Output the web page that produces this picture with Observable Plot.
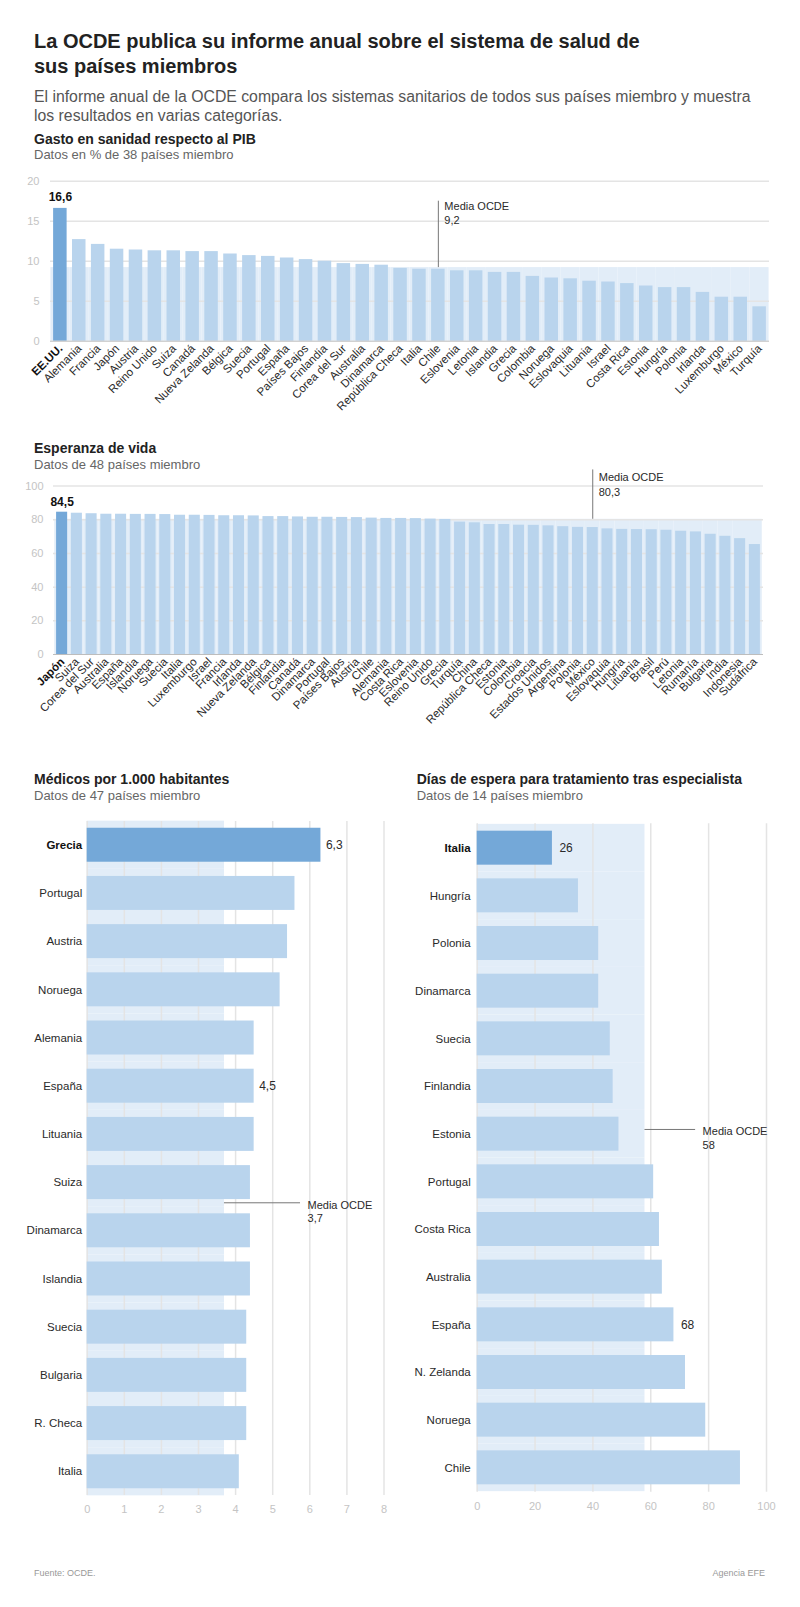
<!DOCTYPE html>
<html>
<head>
<meta charset="utf-8">
<script src="https://cdn.jsdelivr.net/npm/d3@7"></script>
<script src="https://cdn.jsdelivr.net/npm/@observablehq/plot@0.6"></script>
<style>
  body { margin: 0; background: #fff; font-family: "Liberation Sans", Arial, Helvetica, sans-serif; }
  #page { position: relative; width: 800px; height: 1607px; overflow: hidden; background: #fff; }
  .abs { position: absolute; white-space: nowrap; }
  .title { left: 34px; top: 29px; font-size: 20px; font-weight: bold; line-height: 25px; color: #222; }
  .sub { left: 34px; top: 86.5px; font-size: 15.8px; line-height: 19px; color: #555; }
  .st { font-size: 14px; font-weight: bold; line-height: 14px; color: #222; z-index: 2; }
  .ss { font-size: 13px; line-height: 13px; color: #666; z-index: 2; }
  .foot { font-size: 9px; line-height: 9px; color: #999; }
  svg { overflow: visible; }
</style>
</head>
<body>
<div id="page">
  <div class="abs title">La OCDE publica su informe anual sobre el sistema de salud de<br>sus países miembros</div>
  <div class="abs sub">El informe anual de la OCDE compara los sistemas sanitarios de todos sus países miembro y muestra<br>los resultados en varias categorías.</div>

  <div class="abs st" style="left:34px;top:131.8px">Gasto en sanidad respecto al PIB</div>
  <div class="abs ss" style="left:34px;top:148.3px">Datos en % de 38 países miembro</div>
  <div class="abs" id="c1" style="left:0;top:170px"></div>

  <div class="abs st" style="left:34px;top:441.4px">Esperanza de vida</div>
  <div class="abs ss" style="left:34px;top:458px">Datos de 48 países miembro</div>
  <div class="abs" id="c2" style="left:0;top:460px"></div>

  <div class="abs st" style="left:34px;top:772.1px">Médicos por 1.000 habitantes</div>
  <div class="abs ss" style="left:34px;top:789px">Datos de 47 países miembro</div>
  <div class="abs" id="c3" style="left:0;top:810px"></div>

  <div class="abs st" style="left:416.7px;top:772.1px">Días de espera para tratamiento tras especialista</div>
  <div class="abs ss" style="left:416.7px;top:789px">Datos de 14 países miembro</div>
  <div class="abs" id="c4" style="left:400px;top:810px"></div>

  <div class="abs foot" style="left:34px;top:1568.7px">Fuente: OCDE.</div>
  <div class="abs foot" style="right:35px;top:1568.7px">Agencia EFE</div>
</div>
<script>
// ---------- DATA ----------
const gastoPaises = ["EE.UU.", "Alemania", "Francia", "Japón", "Austria", "Reino Unido", "Suiza", "Canadá", "Nueva Zelanda", "Bélgica", "Suecia", "Portugal", "España", "Países Bajos", "Finlandia", "Corea del Sur", "Australia", "Dinamarca", "República Checa", "Italia", "Chile", "Eslovenia", "Letonia", "Islandia", "Grecia", "Colombia", "Noruega", "Eslovaquia", "Lituania", "Israel", "Costa Rica", "Estonia", "Hungría", "Polonia", "Irlanda", "Luxemburgo", "México", "Turquía"];
const gastoValores = [16.6, 12.7, 12.1, 11.5, 11.4, 11.3, 11.3, 11.2, 11.2, 10.9, 10.7, 10.6, 10.4, 10.2, 10.0, 9.7, 9.6, 9.5, 9.1, 9.0, 9.0, 8.8, 8.8, 8.6, 8.6, 8.1, 7.9, 7.8, 7.5, 7.4, 7.2, 6.9, 6.7, 6.7, 6.1, 5.5, 5.5, 4.3];
const gastoMedia = 9.2;
const gastoDestacado = "EE.UU.";
const gastoMediaEn = "Chile";
const gastoTicks = [0, 5, 10, 15, 20];

const vidaPaises = ["Japón", "Suiza", "Corea del Sur", "Australia", "España", "Islandia", "Noruega", "Suecia", "Italia", "Luxemburgo", "Israel", "Francia", "Irlanda", "Nueva Zelanda", "Bélgica", "Finlandia", "Canadá", "Dinamarca", "Portugal", "Países Bajos", "Austria", "Chile", "Alemania", "Costa Rica", "Eslovenia", "Reino Unido", "Grecia", "Turquía", "China", "República Checa", "Estonia", "Colombia", "Croacia", "Estados Unidos", "Argentina", "Polonia", "México", "Eslovaquia", "Hungría", "Lituania", "Brasil", "Perú", "Letonia", "Rumanía", "Bulgaria", "India", "Indonesia", "Sudáfrica"];
const vidaValores = [84.5, 83.9, 83.6, 83.3, 83.3, 83.2, 83.2, 83.1, 82.7, 82.7, 82.6, 82.4, 82.4, 82.3, 81.9, 81.9, 81.7, 81.5, 81.5, 81.4, 81.3, 81.0, 80.8, 80.8, 80.7, 80.4, 80.2, 78.6, 78.2, 77.2, 77.2, 76.8, 76.7, 76.4, 75.9, 75.5, 75.4, 74.6, 74.3, 74.2, 74.1, 73.8, 73.2, 72.8, 71.4, 70.2, 68.8, 65.3];
const vidaMedia = 80.3;
const vidaDestacado = "Japón";
const vidaMediaEn = "México";
const vidaTicks = [0, 20, 40, 60, 80, 100];

const medicosPaises = ["Grecia", "Portugal", "Austria", "Noruega", "Alemania", "España", "Lituania", "Suiza", "Dinamarca", "Islandia", "Suecia", "Bulgaria", "R. Checa", "Italia"];
const medicosValores = [6.3, 5.6, 5.4, 5.2, 4.5, 4.5, 4.5, 4.4, 4.4, 4.4, 4.3, 4.3, 4.3, 4.1];
const medicosMedia = 3.7;
const medicosDestacado = "Grecia";
const medicosEtiquetas = ["Grecia", "España"];
const medicosMediaEn = "Dinamarca";
const medicosTicks = [0, 1, 2, 3, 4, 5, 6, 7, 8];

const esperaPaises = ["Italia", "Hungría", "Polonia", "Dinamarca", "Suecia", "Finlandia", "Estonia", "Portugal", "Costa Rica", "Australia", "España", "N. Zelanda", "Noruega", "Chile"];
const esperaValores = [26, 35, 42, 42, 46, 47, 49, 61, 63, 64, 68, 72, 79, 91];
const esperaMedia = 58;
const esperaDestacado = "Italia";
const esperaEtiquetas = ["Italia", "España"];
const esperaMediaEn = "Estonia";
const esperaTicks = [0, 20, 40, 60, 80, 100];

// ---------- STYLE ----------
const C_HI = "#74a8d8", C_BAR = "#b9d4ed", C_SHADE = "#e2edf8", C_GRID = "#e4e4e4", C_TICK = "#c4c4c4", C_TEXT = "#2a2a2a", C_RULE = "#777";
const FONT = "'Liberation Sans', Arial, Helvetica, sans-serif";
const fmt = v => String(v).replace(".", ",");

function vertical(o) {
  const data = o.paises.map((p, i) => ({pais: p, valor: o.valores[i]}));
  return Plot.plot({
    width: 800, height: o.height,
    marginTop: o.mt, marginBottom: o.mb, marginLeft: o.ml, marginRight: o.mr,
    x: {type: "band", domain: o.paises, paddingInner: o.pi, paddingOuter: o.po, round: false, axis: null},
    y: {domain: [0, o.ticks[o.ticks.length - 1]]},
    style: {fontFamily: FONT, background: "none", overflow: "visible"},
    marks: [
      Plot.barY(o.paises, {x: d => d, y1: 0, y2: () => o.media, fill: C_SHADE, insetLeft: -o.inset, insetRight: -o.inset}),
      Plot.ruleY(o.ticks.filter(t => t > 0), {stroke: C_GRID, strokeWidth: 1.5}),
      Plot.axisY({ticks: o.ticks, tickSize: 0, tickPadding: o.tickPad, color: C_TICK, fontSize: 11, label: null, tickFormat: d => d}),
      Plot.barY(data, {x: "pais", y: "valor", fill: d => d.pais === o.destacado ? C_HI : C_BAR}),
      Plot.ruleY([0], {stroke: "#bdbdbd"}),
      Plot.text(data.filter(d => d.pais === o.destacado), {x: "pais", y: "valor", text: d => fmt(d.valor), dy: o.valDy, fontWeight: "bold", fontSize: 12, fill: "#111"}),
      Plot.text(o.paises.filter(p => p !== o.destacado), {x: d => d, text: d => d, frameAnchor: "bottom", rotate: -45, textAnchor: "end", dx: 3, dy: 8, fontSize: 11.5, fill: C_TEXT}),
      Plot.text([o.destacado], {x: d => d, text: d => d, frameAnchor: "bottom", rotate: -45, textAnchor: "end", dx: 3, dy: 8, fontSize: 11.5, fontWeight: "bold", fill: "#111"}),
      Plot.ruleX([o.media], {x: () => o.mediaEn, y1: d => d, y2: o.ruleTop, stroke: C_RULE}),
      Plot.text([o.media], {x: () => o.mediaEn, y: o.ruleTop, text: d => "Media OCDE\n" + fmt(d), textAnchor: "start", lineAnchor: "top", dx: 6, dy: o.textDy, lineHeight: o.lh, fontSize: 11, fill: C_TEXT})
    ]
  });
}

function horizontal(o) {
  const data = o.paises.map((p, i) => ({pais: p, valor: o.valores[i]}));
  return Plot.plot({
    width: 400, height: 720,
    marginTop: o.mt, marginBottom: o.mb, marginLeft: o.ml, marginRight: o.mr,
    y: {type: "band", domain: o.paises, paddingInner: o.pi, paddingOuter: o.po, round: false, axis: null},
    x: {domain: [0, o.ticks[o.ticks.length - 1]]},
    style: {fontFamily: FONT, background: "none", overflow: "visible"},
    marks: [
      Plot.barX(o.paises, {y: d => d, x1: 0, x2: () => o.media, fill: C_SHADE, insetTop: -o.inset, insetBottom: -o.inset}),
      Plot.ruleX(o.ticks, {stroke: C_GRID, strokeWidth: 1.5}),
      Plot.axisX({ticks: o.ticks, tickSize: 0, tickPadding: o.tickPad, color: C_TICK, fontSize: 11, label: null, tickFormat: d => d}),
      Plot.barX(data, {y: "pais", x: "valor", fill: d => d.pais === o.destacado ? C_HI : C_BAR}),
      Plot.text(data.filter(d => o.etiquetas.includes(d.pais)), {y: "pais", x: "valor", text: d => fmt(d.valor), textAnchor: "start", dx: o.valDx, fontSize: 12, fill: C_TEXT}),
      Plot.text(o.paises.filter(p => p !== o.destacado), {y: d => d, text: d => d, frameAnchor: "left", textAnchor: "end", dx: -o.catDx, fontSize: 11.5, fill: C_TEXT}),
      Plot.text([o.destacado], {y: d => d, text: d => d, frameAnchor: "left", textAnchor: "end", dx: -o.catDx, fontSize: 11.5, fontWeight: "bold", fill: "#111"}),
      Plot.ruleY([o.media], {y: () => o.mediaEn, x1: d => d, x2: o.ruleEnd, dy: o.ruleDy, stroke: C_RULE}),
      Plot.text([o.media], {y: () => o.mediaEn, x: o.ruleEnd, text: d => "Media OCDE\n" + fmt(d), textAnchor: "start", lineAnchor: "top", dx: 7, dy: o.ruleDy - 4, lineHeight: 1.26, fontSize: 11, fill: C_TEXT})
    ]
  });
}

document.getElementById("c1").append(vertical({
  paises: gastoPaises, valores: gastoValores, media: gastoMedia, destacado: gastoDestacado, mediaEn: gastoMediaEn, ticks: gastoTicks,
  height: 240, mt: 10.7, mb: 69.3, ml: 50, mr: 31, pi: 0.286, po: 0.165, inset: 2.7, tickPad: 11,
  valDy: -11, ruleTop: 17.5, textDy: -1, lh: 1.25
}));

document.getElementById("c2").append(vertical({
  paises: vidaPaises, valores: vidaValores, media: vidaMedia, destacado: vidaDestacado, mediaEn: vidaMediaEn, ticks: vidaTicks,
  height: 275, mt: 25.6, mb: 81, ml: 53, mr: 37, pi: 0.25, po: 0.21, inset: 1.85, tickPad: 10,
  valDy: -10, ruleTop: 109.6, textDy: 0, lh: 1.4
}));

document.getElementById("c3").append(horizontal({
  paises: medicosPaises, valores: medicosValores, media: medicosMedia, destacado: medicosDestacado, etiquetas: medicosEtiquetas, mediaEn: medicosMediaEn, ticks: medicosTicks,
  mt: 11, mb: 35, ml: 86.7, mr: 16.5, pi: 0.295, po: 0.14, inset: 7.1, tickPad: 10,
  valDx: 5, catDx: 5, ruleEnd: 5.75, ruleDy: -28
}));

document.getElementById("c4").append(horizontal({
  paises: esperaPaises, valores: esperaValores, media: esperaMedia, destacado: esperaDestacado, etiquetas: esperaEtiquetas, mediaEn: esperaMediaEn, ticks: esperaTicks,
  mt: 13.3, mb: 38.3, ml: 76.7, mr: 34, pi: 0.287, po: 0.155, inset: 6.85, tickPad: 10,
  valDx: 7, catDx: 6.5, ruleEnd: 75.5, ruleDy: -4.7
}));
</script>
</body>
</html>
